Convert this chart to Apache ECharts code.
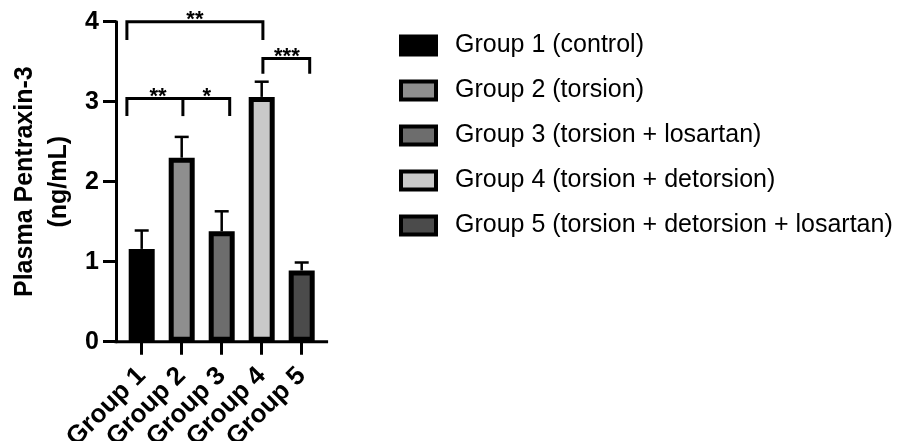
<!DOCTYPE html>
<html><head><meta charset="utf-8">
<script src="https://cdn.jsdelivr.net/npm/echarts@6/dist/echarts.min.js"></script>
<style>html,body{margin:0;padding:0;background:#fff}#c{width:903px;height:441px}</style>
</head><body><div id="c"></div>
<script>
const categories = ['Group 1', 'Group 2', 'Group 3', 'Group 4', 'Group 5'];
const legendNames = ['Group 1 (control)', 'Group 2 (torsion)', 'Group 3 (torsion + losartan)', 'Group 4 (torsion + detorsion)', 'Group 5 (torsion + detorsion + losartan)'];
const means = [1.16, 2.30, 1.38, 3.06, 0.89];
const upperErrors = [1.39, 2.56, 1.63, 3.25, 0.99];
const barColors = ['#000000', '#8e8e8e', '#6d6d6d', '#c9c9c9', '#4b4b4b'];
const yTicks = [0, 1, 2, 3, 4];
// significance brackets: [xStart, xEnd, yLine, yLegBottom] in category units
const bracketLines = [[-0.37, 3.03, 4.0, 3.77], [-0.37, 2.2, 3.04, 2.82], [3.03, 4.2, 3.54, 3.35]];
const bracketMidLegs = [[1.03, 3.04, 2.82]];
const starLabels = [[1.33, 4.0, '**'], [0.41, 3.04, '**'], [1.63, 3.04, '*'], [3.63, 3.54, '***']];
const axisExtent = [-0.68, 4.66];

const FONT = '"Liberation Sans", Arial, Helvetica, sans-serif';
const chart = echarts.init(document.getElementById('c'), null, {renderer: 'canvas'});

const barSeries = legendNames.map((name, i) => ({
  type: 'bar',
  name: name,
  xAxisIndex: 0, yAxisIndex: 0,
  data: means.map((v, j) => (j === i ? v : '-')),
  barWidth: 26,
  barGap: '-100%',
  itemStyle: {color: barColors[i], borderColor: '#000', borderWidth: 5},
  emphasis: {disabled: true},
  z: 2
}));

const option = {
  animation: false,
  backgroundColor: '#fff',
  textStyle: {fontFamily: FONT},
  grid: {left: 121.7, top: 21.7, width: 200, height: 320, containLabel: false, outerBoundsMode: 'none'},
  legend: {
    data: legendNames,
    orient: 'vertical',
    left: 394, top: 28,
    itemWidth: 35, itemHeight: 18,
    itemGap: 20,
    icon: 'rect',
    itemStyle: {borderColor: '#000', borderWidth: 4},
    textStyle: {fontFamily: FONT, fontSize: 25, color: '#000', padding: [0, 0, 0, 14]},
    selectedMode: false
  },
  xAxis: [{
    type: 'category',
    data: categories,
    gridIndex: 0,
    axisLine: {show: false, onZero: false},
    axisTick: {show: true, alignWithLabel: true, length: 13, lineStyle: {color: '#000', width: 3}},
    axisLabel: {rotate: 45, fontSize: 26, fontWeight: 'bold', color: '#000', fontFamily: FONT, margin: 30, interval: 0}
  }, {
    type: 'value', gridIndex: 0, min: -0.5, max: 4.5, show: false,
    axisLine: {onZero: false}
  }],
  yAxis: [{
    type: 'value',
    min: 0, max: 4, interval: 1,
    offset: 5.7,
    name: 'Plasma Pentraxin-3\n(ng/mL)',
    nameLocation: 'middle',
    nameGap: 40,
    nameMoveOverlap: false,
    nameTextStyle: {fontSize: 25, fontWeight: 'bold', color: '#000', fontFamily: FONT, lineHeight: 34},
    splitLine: {show: false},
    axisLine: {show: true, onZero: false, lineStyle: {color: '#000', width: 3}},
    axisTick: {show: true, length: 13, lineStyle: {color: '#000', width: 3}},
    axisLabel: {fontSize: 25, fontWeight: 'bold', color: '#000', fontFamily: FONT, margin: 17,
      formatter: v => (yTicks.indexOf(v) >= 0 ? String(v) : '')}
  }],
  series: barSeries.concat([
    {
      type: 'custom', name: 'errors', xAxisIndex: 0, yAxisIndex: 0, z: 1,
      data: means.map((m, i) => [i, m, upperErrors[i]]),
      encode: {x: 0, y: [1, 2]},
      renderItem: (params, api) => {
        const p0 = api.coord([api.value(0), api.value(1)]);
        const p1 = api.coord([api.value(0), api.value(2)]);
        const st = {stroke: '#000', lineWidth: 2.5};
        return {type: 'group', children: [
          {type: 'line', shape: {x1: p0[0], y1: p0[1], x2: p1[0], y2: p1[1]}, style: st},
          {type: 'line', shape: {x1: p1[0] - 7, y1: p1[1], x2: p1[0] + 7, y2: p1[1]}, style: st}
        ]};
      }
    },
    {
      type: 'custom', name: 'baseline', xAxisIndex: 1, yAxisIndex: 0, z: 5,
      data: [axisExtent],
      renderItem: (params, api) => {
        const a = api.coord([api.value(0), 0]);
        const b = api.coord([api.value(1), 0]);
        return {type: 'line', shape: {x1: a[0], y1: a[1], x2: b[0], y2: b[1]}, style: {stroke: '#000', lineWidth: 3}};
      }
    },
    {
      type: 'custom', name: 'brackets', xAxisIndex: 1, yAxisIndex: 0, z: 5,
      data: bracketLines,
      renderItem: (params, api) => {
        const a = api.coord([api.value(0), api.value(3)]);
        const b = api.coord([api.value(0), api.value(2)]);
        const c = api.coord([api.value(1), api.value(2)]);
        const d = api.coord([api.value(1), api.value(3)]);
        return {type: 'polyline', shape: {points: [a, b, c, d]}, style: {stroke: '#000', lineWidth: 3, fill: null, lineJoin: 'miter'}};
      }
    },
    {
      type: 'custom', name: 'midlegs', xAxisIndex: 1, yAxisIndex: 0, z: 5,
      data: bracketMidLegs,
      renderItem: (params, api) => {
        const a = api.coord([api.value(0), api.value(1)]);
        const b = api.coord([api.value(0), api.value(2)]);
        return {type: 'line', shape: {x1: a[0], y1: a[1], x2: b[0], y2: b[1]}, style: {stroke: '#000', lineWidth: 3}};
      }
    },
    {
      type: 'custom', name: 'stars', xAxisIndex: 1, yAxisIndex: 0, z: 5,
      data: starLabels,
      dimensions: ['x', 'y', 'label'],
      encode: {x: 0, y: 1},
      renderItem: (params, api) => {
        const p = api.coord([api.value(0), api.value(1)]);
        return {type: 'text', x: p[0], y: p[1] - 2, style: {text: starLabels[params.dataIndex][2], fontSize: 22, fontWeight: 'bold', fontFamily: FONT, fill: '#000', align: 'center', verticalAlign: 'middle'}};
      }
    }
  ])
};
chart.setOption(option);
</script></body></html>
